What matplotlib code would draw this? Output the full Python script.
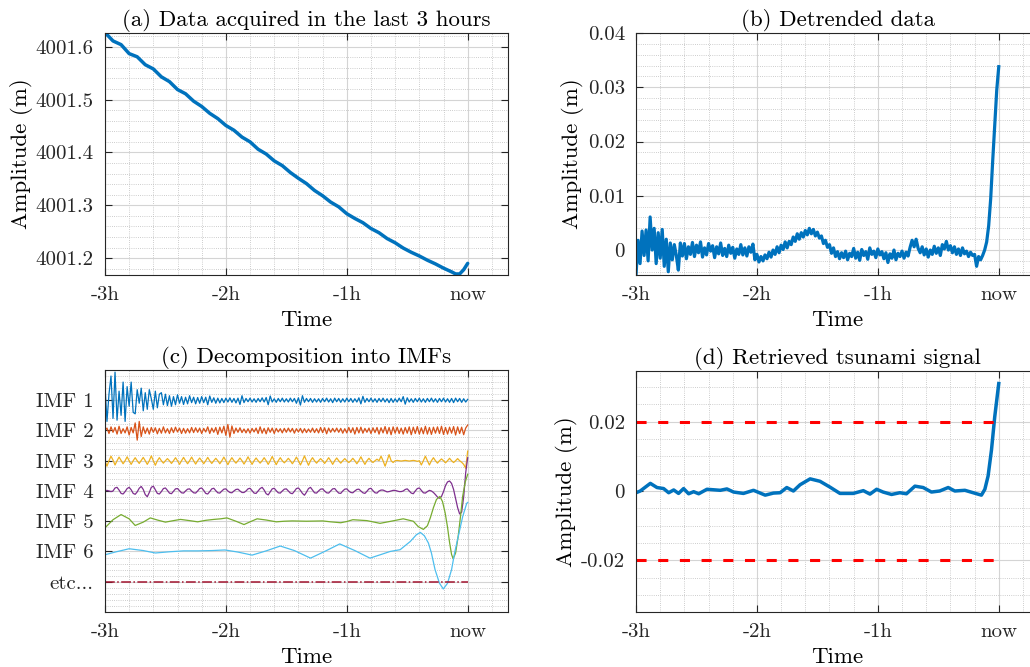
import numpy as np
import matplotlib
matplotlib.use('Agg')
import matplotlib.pyplot as plt
from matplotlib.ticker import MultipleLocator

plt.rcParams['font.family'] = ['cmr10', 'DejaVu Serif']
plt.rcParams['axes.unicode_minus'] = False
plt.rcParams['mathtext.fontset'] = 'cm'

# ---------------- data (time in minutes before "now") ----------------
time_ticks = [-180, -120, -60, 0]
time_labels = ['-3h', '-2h', '-1h', 'now']

# (a) raw data, every 4 min from -180 to -8, then -6, -4, -2, 0
raw_t = list(range(-180, -7, 4)) + [-6, -4, -2, 0]
raw_vals = [4001.627, 4001.611, 4001.604, 4001.587, 4001.581, 4001.566, 4001.558,
            4001.543, 4001.534, 4001.519, 4001.511, 4001.497, 4001.487, 4001.474,
            4001.464, 4001.451, 4001.442, 4001.429, 4001.420, 4001.406, 4001.397,
            4001.384, 4001.375, 4001.362, 4001.351, 4001.341, 4001.328, 4001.318,
            4001.306, 4001.297, 4001.284, 4001.275, 4001.267, 4001.256, 4001.248,
            4001.237, 4001.229, 4001.219, 4001.211, 4001.204, 4001.196, 4001.189,
            4001.181, 4001.174, 4001.170, 4001.170, 4001.178, 4001.190]

# (b) detrended data in mm, one per minute from -180 to -8, then -7..0
detr_mm = [-4.6, 1.8, -2.5, 3.5, -1.0, 3.7, -2.0, 6.1, 0.0, 4.0,
           -2.5, 3.2, -1.5, 3.8, -3.0, 2.0, -4.0, 1.3, -1.8, 1.0,
           -1.0, -3.7, 1.3, -1.1, 1.2, -1.6, 0.6, -0.8, 1.4, -1.2,
           0.9, -0.5, 1.5, -1.3, 0.4, -0.9, 1.2, -0.2, 0.8, -1.4,
           0.6, -0.7, 1.3, -1.0, 0.3, -1.2, 0.9, -0.6, 0.5, -1.5,
           0.2, -0.8, 1.0, -0.9, 0.4, -1.1, 0.6, -0.4, 1.1, -1.8,
           -0.8, -2.2, -1.2, -2.0, -0.9, -1.6, -0.4, -1.3, 0.0, -0.8,
           0.6, -0.5, 0.9, 0.1, 1.5, 0.4, 1.6, 1.0, 2.4, 1.6,
           3.0, 2.0, 3.2, 2.4, 3.6, 2.8, 4.0, 3.0, 3.8, 2.6,
           3.3, 2.2, 2.6, 1.2, 1.8, 0.5, 1.0, -0.6, 0.4, -1.2,
           -0.3, -1.6, -0.5, -1.4, -0.2, -1.8, -0.6, -1.2, 0.3, -1.5,
           -0.4, -1.9, 0.1, -1.0, -0.3, -1.7, 0.4, -0.8, -0.2, -1.4,
           0.2, -0.9, -0.3, -1.6, -0.5, -2.3, -0.7, -1.5, 0.0, -1.8,
           -0.6, -1.2, -0.2, -1.5, -0.4, -1.1, 0.5, 1.8, 0.6, 2.0,
           0.3, -0.5, 0.6, -0.9, 0.2, -1.3, 0.0, -0.8, 0.7, -0.6,
           0.4, -1.0, 1.0, 0.2, 1.6, 0.0, 0.8, -0.5, 0.6, -0.8,
           0.2, -1.0, 0.4, -0.7, -0.2, -1.2, -0.4, -1.0, -0.8, -3.0,
           -1.2, -1.8, -1.0,
           0.0, 1.5, 4.5, 9.5, 16.5, 23.0, 29.5, 33.8]

# (c) intrinsic mode functions (offset units), one per minute -180..0
imf1 = [0.5, -0.7, 0.2, 0.8, -0.6, 0.93, -0.66, 0.3, -0.5, 0.6, -0.7, 0.45, -0.2, 0.6, -0.4,
        -0.45, 0.35, -0.1, 0.4, -0.35, 0.25, -0.3, 0.35, 0.05, -0.3, 0.3, -0.25, 0.2, 0.25, -0.15,
        0.2, -0.18, 0.15, -0.2, 0.12, -0.15, 0.18, -0.1, 0.12, -0.14, 0.1, -0.12, 0.15, -0.08, 0.1,
        -0.12, 0.09, -0.1, 0.12, -0.08, 0.1, -0.15, 0.14, -0.07, 0.08, -0.1, 0.07, -0.09, 0.06, -0.08,
        0.07, -0.06, 0.08, -0.07, 0.06, -0.09, 0.07, -0.14, 0.15, -0.08, 0.06, -0.05, 0.07, -0.06, 0.05,
        -0.07, 0.06, -0.05, 0.08, -0.06, 0.09, -0.15, 0.14, -0.06, 0.05, -0.07, 0.06, -0.05, 0.07, -0.06,
        0.05, -0.06, 0.07, -0.05, 0.06, -0.1, 0.08, -0.16, 0.15, -0.07, 0.06, -0.05, 0.06, -0.07, 0.05,
        -0.06, 0.05, -0.07, 0.06, -0.05, 0.07, -0.06, 0.05, -0.08, 0.07, -0.05, 0.06, -0.07, 0.05, -0.06,
        0.07, -0.05, 0.06, -0.07, 0.05, -0.06, 0.08, -0.12, 0.13, -0.07, 0.06, -0.05, 0.07, -0.06, 0.05,
        -0.07, 0.06, -0.05, 0.07, -0.06, 0.05, -0.08, 0.06, -0.07, 0.05, -0.06, 0.07, -0.05, 0.12, -0.13,
        0.08, -0.06, 0.05, -0.07, 0.06, -0.05, 0.07, -0.06, 0.05, -0.07, 0.06, -0.05, 0.07, -0.06, 0.05,
        -0.07, 0.06, -0.05, 0.07, -0.06, 0.05, -0.07, 0.06, -0.08, 0.07, -0.05, 0.06, -0.07, 0.05, -0.06,
        0.03]
imf2 = [0.0, 0.08, -0.1, 0.12, -0.06, 0.1, -0.12, 0.14, -0.1, 0.06, -0.08, 0.12, -0.15, 0.1, -0.08,
        0.25, -0.32, 0.3, -0.2, 0.12, -0.1, 0.08, -0.12, 0.1, -0.06, 0.09, -0.11, 0.07, -0.09, 0.12,
        -0.08, 0.06, -0.1, 0.09, -0.07, 0.11, -0.05, 0.08, -0.1, 0.07, -0.09, 0.06, -0.08, 0.1, -0.07,
        0.09, -0.06, 0.08, -0.1, 0.07, -0.05, 0.12, -0.1, 0.08, -0.06, 0.1, -0.13, 0.11, -0.08, 0.14,
        -0.16, 0.2, -0.22, 0.15, -0.1, 0.08, -0.06, 0.09, -0.07, 0.05, -0.08, 0.06, -0.09, 0.07, -0.05,
        0.08, -0.1, 0.12, -0.09, 0.07, -0.11, 0.09, -0.06, 0.08, -0.1, 0.07, -0.05, 0.06, -0.08, 0.07,
        -0.06, 0.08, -0.05, 0.07, -0.09, 0.06, -0.05, 0.07, -0.08, 0.06, -0.07, 0.05, -0.06, 0.08, -0.07,
        0.06, -0.08, 0.1, -0.07, 0.09, -0.11, 0.08, -0.06, 0.07, -0.05, 0.08, -0.06, 0.07, -0.09, 0.06,
        -0.08, 0.1, -0.07, 0.09, -0.12, 0.1, -0.08, 0.11, -0.09, 0.07, -0.06, 0.08, -0.1, 0.09, -0.07,
        0.1, -0.12, 0.09, -0.08, 0.13, -0.11, 0.1, -0.14, 0.12, -0.09, 0.11, -0.1, 0.08, -0.12, 0.1,
        -0.09, 0.12, -0.14, 0.11, -0.1, 0.13, -0.12, 0.09, -0.11, 0.14, -0.12, 0.1, -0.13, 0.11, -0.09,
        0.12, -0.1, 0.14, -0.13, 0.1, -0.12, 0.11, -0.09, 0.13, -0.15, 0.12, -0.1, 0.11, -0.14, 0.08,
        0.18]
imf3 = [0.0, -0.18, 0.0, 0.15, 0.02, -0.14, 0.0, 0.12, 0.01, -0.1, 0.0, 0.13, 0.0, -0.12, 0.0, 0.1, 0.0, -0.09, 0.01, 0.11,
        0.0, -0.12, 0.0, 0.16, 0.0, -0.15, 0.0, 0.1, 0.0, -0.08, 0.0, 0.07, 0.0, -0.09, 0.0, 0.1, 0.0, -0.12, 0.0, 0.11,
        0.0, -0.1, 0.0, 0.12, 0.0, -0.11, 0.0, 0.09, 0.0, -0.1, 0.0, 0.11, 0.0, -0.09, 0.0, 0.08, 0.0, -0.1, 0.0, 0.12,
        0.0, -0.13, 0.0, 0.1, 0.0, -0.08, 0.0, 0.09, 0.0, -0.11, 0.0, 0.13, 0.0, -0.12, 0.0, 0.09, 0.0, -0.08, 0.0, 0.1,
        0.0, -0.12, 0.0, 0.14, 0.0, -0.13, 0.0, 0.1, 0.0, -0.07, 0.0, 0.08, 0.0, -0.1, 0.0, 0.12, 0.0, -0.14, 0.0, 0.16,
        0.0, -0.15, 0.0, 0.1, 0.0, -0.08, 0.0, 0.07, 0.0, -0.09, 0.0, 0.1, 0.0, -0.12, 0.0, 0.09, 0.0, -0.08, 0.0, 0.07,
        0.0, -0.06, 0.0, 0.08, 0.0, -0.1, 0.0, 0.13, 0.0, -0.12, 0.0, 0.08, 0.0, -0.06, 0.0, 0.05, 0.0, 0.15, 0.0, -0.18,
        0.0, 0.2, 0.0, -0.06, 0.0, 0.01, 0.0, -0.01, 0.0, 0.01, 0.0, -0.01, 0.0, 0.01, 0.0, -0.02, 0.0, -0.14, 0.0, 0.15,
        0.0, -0.14, 0.0, 0.1, 0.0, -0.08, 0.0, 0.06, 0.0, -0.07, 0.0, 0.08, 0.0, -0.06, 0.0, 0.07, 0.0, -0.05, -0.12, -0.25,
        0.32]
imf4 = [0.0, 0.02, 0.0, -0.02, 0.0, 0.1, 0.12,
        0.03, -0.08, -0.1, -0.02, 0.08, 0.12, 0.04,
        -0.08, -0.11, -0.03, 0.09, 0.15, 0.05, -0.12,
        -0.19, -0.05, 0.12, 0.16, 0.04, -0.08, -0.1,
        -0.02, 0.08, 0.1, 0.02, -0.07, -0.09, -0.01,
        0.07, 0.08, 0.01, -0.06, -0.07, 0.0, 0.06,
        0.07, 0.0, -0.06, -0.07, 0.0, 0.08, 0.1,
        0.02, -0.08, -0.1, -0.02, 0.07, 0.09, 0.01,
        -0.06, -0.07, 0.0, 0.06, 0.07, 0.0, -0.05,
        -0.06, 0.0, 0.05, 0.06, 0.0, -0.05, -0.05,
        0.0, 0.07, 0.09, 0.01, -0.07, -0.08, 0.0,
        0.08, 0.12, 0.03, -0.09, -0.13, -0.03, 0.07,
        0.09, 0.01, -0.06, -0.07, 0.0, 0.06, 0.07,
        0.0, -0.07, -0.09, -0.01, 0.08, 0.1, 0.02,
        -0.08, -0.14, -0.04, 0.08, 0.12, 0.03, -0.06,
        -0.07, 0.0, 0.06, 0.07, 0.0, -0.06, -0.07,
        0.0, 0.07, 0.08, 0.0, -0.07, -0.08, 0.0,
        0.06, 0.07, 0.0, -0.05, -0.06, 0.0, 0.05,
        0.06, 0.0, -0.06, -0.08, -0.01, 0.07, 0.09,
        0.01, -0.06, -0.07, 0.0, 0.03, 0.03, 0.0,
        -0.03, -0.02, 0.0, 0.02, 0.02, 0.0, -0.02,
        -0.02, 0.0, 0.05, 0.07, 0.0, -0.07, -0.09,
        0.0, 0.08, 0.1, 0.02, -0.06, -0.07, -0.02,
        0.02, 0.0, -0.05, -0.12, -0.2, -0.24, -0.18, -0.02, 0.18, 0.3,
        0.33, 0.25, 0.05, -0.25, -0.55, -0.76, -0.7, -0.2, 0.6, 1.1]
imf5_t = [-180, -176, -172, -168, -165, -161, -157.5, -154, -150, -146, -142.5, -138,
          -134, -130, -126, -122.5, -119.5, -115, -111, -108, -104.5, -100, -95, -91,
          -87, -80, -72, -68, -63, -60, -57, -50, -43.5, -38, -32, -27, -24.5, -22,
          -20, -18.5, -17, -15.5, -13.8, -12.5, -11.2, -10, -9, -8, -7.2, -6, -4.7,
          -3.5, -2.5, -1.2, 0]
imf5 = [-0.22, 0.05, 0.22, 0.08, -0.14, -0.03, 0.11, 0.04, -0.03, 0.02, 0.06, 0.02,
        -0.02, 0.03, 0.06, 0.08, 0.11, 0.0, -0.11, -0.02, 0.08, 0.04, -0.02, 0.0,
        0.01, 0.0, 0.01, -0.02, -0.05, -0.01, 0.05, 0.02, -0.07, 0.0, 0.08, 0.0, -0.18, -0.27,
        -0.15, 0.12, 0.45, 0.72, 0.82, 0.65, 0.28, -0.2, -0.7, -1.1, -1.24, -1.05, -0.49,
        0.2, 0.82, 1.3, 1.55]
imf6_t = [-180, -175, -168, -161, -155, -148, -141, -134, -127, -120.5, -114, -107,
          -100, -93, -86, -78, -71, -63.5, -56, -48.5, -43, -38.5, -33.5, -28.5, -25.5,
          -23.5, -21.5, -19.5, -18, -16.2, -14, -12.1, -10, -8, -6.5, -4.7, -2.5, -0.5, 0]
imf6 = [-0.11, -0.02, 0.09, 0.03, -0.05, -0.01, 0.02, 0.02, 0.03, 0.05, -0.02, -0.12,
        0.02, 0.18, 0.03, -0.22, 0.0, 0.25, 0.03, -0.22, -0.1, 0.0, 0.06, 0.33, 0.55,
        0.63, 0.52, 0.28, -0.05, -0.6, -1.05, -1.24, -1.05, -0.6, -0.05, 0.49, 1.15, 1.59, 1.62]
etc_t = [-180, 0]
etc_vals = [0.0, 0.0]
imf_labels = ['IMF 1', 'IMF 2', 'IMF 3', 'IMF 4', 'IMF 5', 'IMF 6', 'etc...']

# (d) retrieved tsunami signal (m)
tsu_t = [-180, -177.9, -172.9, -169.6, -166.3, -163.8, -161.3, -158.9, -156.4, -153.9,
         -151.4, -148.9, -144.8, -138.2, -134.9, -131.6, -126.7, -121.7, -115.9, -111.8,
         -108.5, -105.2, -101.9, -98.6, -93.6, -88.7, -83.7, -78.8, -72.2, -67.2, -63.9,
         -60.6, -57.4, -53.2, -49.1, -45.8, -41.6, -37.5, -33.4, -29.3, -25.1, -21.8,
         -16.8, -12.7, -8.6, -6.9, -5.3, -3.6, -2.0, 0]
tsu_vals = [-0.0005, 0.0, 0.0022, 0.001, 0.0007, -0.0005, 0.0003, -0.0007, 0.0007, -0.0008,
            -0.0002, -0.0008, 0.0005, 0.0002, 0.0006, -0.0003, -0.0007, 0.0002, -0.0012, -0.0006,
            -0.0005, 0.001, 0.0, 0.0018, 0.0035, 0.0028, 0.0011, -0.0007, -0.0007, 0.0001, -0.0009,
            0.0005, -0.0003, -0.001, -0.0005, -0.0008, 0.0014, 0.001, -0.0003, 0.0, 0.001, 0.0,
            0.0002, -0.0005, -0.0012, 0.0005, 0.0043, 0.0119, 0.0214, 0.031]
threshold = 0.02

# ---------------- styling ----------------
BLUE = '#0072BD'
IMF_COLORS = ['#0072BD', '#D95319', '#EDB120', '#7E2F8E', '#77AC30', '#4DBEEE', '#A2142F']
DARK = '#262626'
FS = 15      # tick labels
FL = 16.5    # axis labels and titles

fig = plt.figure(figsize=(10.3, 6.67), dpi=100)
W, H = 0.3913, 0.3628
ax_a = fig.add_axes([0.1019, 0.5877, W, H])
ax_b = fig.add_axes([0.6175, 0.5877, W, H])
ax_c = fig.add_axes([0.1019, 0.0825, W, H])
ax_d = fig.add_axes([0.6175, 0.0825, W, 0.3617])


def style(ax, ylim, yticks, yticklabels, yminor):
    ax.set_xlim(-180, 20)
    ax.set_ylim(*ylim)
    ax.set_xticks(time_ticks)
    ax.set_xticklabels(time_labels)
    ax.xaxis.set_minor_locator(MultipleLocator(12))
    ax.set_yticks(yticks)
    ax.set_yticklabels(yticklabels)
    ax.yaxis.set_minor_locator(MultipleLocator(yminor))
    ax.grid(which='major', color='#d4d4d4', lw=0.8, ls='-')
    ax.grid(which='minor', color='#bdbdbd', lw=0.6, ls=(0, (1, 1.6)))
    ax.set_axisbelow(True)
    ax.tick_params(which='major', direction='in', length=5, width=0.8, color=DARK,
                   top=True, right=True, labelsize=FS, pad=8, labelcolor=DARK)
    ax.tick_params(which='minor', length=0)
    for s in ax.spines.values():
        s.set_color(DARK)
        s.set_linewidth(0.8)
    ax.set_xlabel('Time', fontsize=FL, labelpad=4.5)


# (a)
ax_a.plot(raw_t, raw_vals, color=BLUE, lw=2.5, solid_capstyle='round')
style(ax_a, (4001.168, 4001.626), [4001.2, 4001.3, 4001.4, 4001.5, 4001.6],
      ['4001.2', '4001.3', '4001.4', '4001.5', '4001.6'], 0.02)
ax_a.set_ylabel('Amplitude (m)', fontsize=FL, labelpad=2)
ax_a.set_title('(a) Data acquired in the last 3 hours', fontsize=FL, pad=5)

# (b)
detr_t = list(range(-180, -7)) + [-7, -6, -5, -4, -3, -2, -1, 0]
ax_b.plot(detr_t, np.array(detr_mm) / 1000.0, color=BLUE, lw=2.3)
style(ax_b, (-0.0046, 0.04), [0, 0.01, 0.02, 0.03, 0.04],
      ['0', '0.01', '0.02', '0.03', '0.04'], 0.002)
ax_b.set_ylabel('Amplitude (m)', fontsize=FL, labelpad=2.5)
ax_b.set_title('(b) Detrended data', fontsize=FL, pad=5)

# (c)
minute_t = list(range(-180, 1))
series = [(minute_t, imf1), (minute_t, imf2), (minute_t, imf3), (minute_t, imf4),
          (imf5_t, imf5), (imf6_t, imf6)]
for k, (tt, vv) in enumerate(series):
    offset = 7 - k
    ax_c.plot(tt, np.array(vv) + offset, color=IMF_COLORS[k], lw=0.9)
ax_c.plot(etc_t, np.array(etc_vals) + 1, color=IMF_COLORS[6], lw=1.1, ls='-.')
style(ax_c, (0, 8), [7, 6, 5, 4, 3, 2, 1], imf_labels, 0.2)
ax_c.set_title('(c) Decomposition into IMFs', fontsize=FL, pad=5)

# (d)
ax_d.plot(tsu_t, tsu_vals, color=BLUE, lw=2.5)
for thr in (threshold, -threshold):
    ax_d.plot([-180, 0], [thr, thr], color='red', lw=2.2, dashes=(3.3, 3.8))
style(ax_d, (-0.0349, 0.0347), [-0.02, 0, 0.02], ['-0.02', '0', '0.02'], 0.005)
ax_d.set_ylabel('Amplitude (m)', fontsize=FL, labelpad=2)
ax_d.set_title('(d) Retrieved tsunami signal', fontsize=FL, pad=5)

fig.savefig('out.png', dpi=100)
